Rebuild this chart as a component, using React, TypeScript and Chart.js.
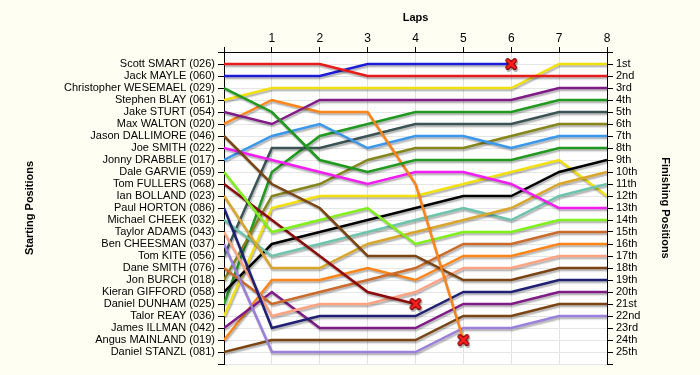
import React, { useEffect, useRef } from 'react';
import { Chart, registerables } from 'chart.js';

Chart.register(...registerables);

const laps = [0, 1, 2, 3, 4, 5, 6, 7, 8];

const driverNames = [
  'Scott SMART (026)', 'Jack MAYLE (060)', 'Christopher WESEMAEL (029)', 'Stephen BLAY (061)',
  'Jake STURT (054)', 'Max WALTON (020)', 'Jason DALLIMORE (046)', 'Joe SMITH (022)',
  'Jonny DRABBLE (017)', 'Dale GARVIE (059)', 'Tom FULLERS (068)', 'Ian BOLLAND (023)',
  'Paul HORTON (086)', 'Michael CHEEK (032)', 'Taylor ADAMS (043)', 'Ben CHEESMAN (037)',
  'Tom KITE (056)', 'Dane SMITH (076)', 'Jon BURCH (018)', 'Kieran GIFFORD (058)',
  'Daniel DUNHAM (025)', 'Talor REAY (036)', 'James ILLMAN (042)', 'Angus MAINLAND (019)',
  'Daniel STANZL (081)',
];

const finishLabels = [
  '1st', '2nd', '3rd', '4th', '5th', '6th', '7th', '8th', '9th', '10th', '11th', '12th', '13th',
  '14th', '15th', '16th', '17th', '18th', '19th', '20th', '21st', '22nd', '23rd', '24th', '25th',
];

const driverColors = [
  '#e61c1c', '#1c1cd6', '#1f9a1f', '#f2e00c', '#7f1a87', '#ff8519', '#7a4512', '#f21df2',
  '#3a97ee', '#7ff01a', '#8b0a0a', '#d9a52a', '#1f1f73', '#6cc4ac', '#ffa383', '#9a7fdb',
  '#3a5454', '#cc6a2a', '#85851a', '#000000', '#1f9a1f', '#f2e00c', '#7f1a87', '#ff8519',
  '#7a4512',
];

// positions at laps 0..8 (null after retirement)
const posScottSmart = [1, 1, 1, 2, 2, 2, 2, 2, 2];
const posJackMayle = [2, 2, 2, 1, 1, 1, 1, null, null];
const posChristopherWesemael = [3, 5, 9, 10, 9, 9, 9, 8, 8];
const posStephenBlay = [4, 3, 3, 3, 3, 3, 3, 1, 1];
const posJakeSturt = [5, 6, 4, 4, 4, 4, 4, 3, 3];
const posMaxWalton = [6, 4, 5, 5, 11, 24, null, null, null];
const posJasonDallimore = [7, 11, 13, 17, 17, 19, 19, 18, 18];
const posJoeSmith = [8, 9, 10, 11, 10, 10, 11, 13, 13];
const posJonnyDrabble = [9, 7, 6, 8, 7, 7, 8, 7, 7];
const posDaleGarvie = [10, 15, 14, 13, 16, 15, 15, 14, 14];
const posTomFullers = [11, 14, 17, 20, 21, null, null, null, null];
const posIanBolland = [12, 18, 18, 16, 15, 14, 13, 11, 10];
const posPaulHorton = [13, 23, 22, 22, 22, 20, 20, 19, 19];
const posMichaelCheek = [14, 17, 16, 15, 14, 13, 14, 12, 11];
const posTaylorAdams = [15, 22, 21, 21, 20, 18, 18, 17, 17];
const posBenCheesman = [16, 25, 25, 25, 25, 23, 23, 22, 22];
const posTomKite = [17, 8, 8, 7, 6, 6, 6, 5, 5];
const posDaneSmith = [18, 21, 20, 19, 18, 16, 16, 15, 15];
const posJonBurch = [19, 12, 11, 9, 8, 8, 7, 6, 6];
const posKieranGifford = [20, 16, 15, 14, 13, 12, 12, 10, 9];
const posDanielDunham = [21, 10, 7, 6, 5, 5, 5, 4, 4];
const posTalorReay = [22, 13, 12, 12, 12, 11, 10, 9, 12];
const posJamesIllman = [23, 20, 23, 23, 23, 21, 21, 20, 20];
const posAngusMainland = [24, 19, 19, 18, 19, 17, 17, 16, 16];
const posDanielStanzl = [25, 24, 24, 24, 24, 22, 22, 21, 21];

const allPositions = [
  posScottSmart, posJackMayle, posChristopherWesemael, posStephenBlay, posJakeSturt,
  posMaxWalton, posJasonDallimore, posJoeSmith, posJonnyDrabble, posDaleGarvie,
  posTomFullers, posIanBolland, posPaulHorton, posMichaelCheek, posTaylorAdams,
  posBenCheesman, posTomKite, posDaneSmith, posJonBurch, posKieranGifford,
  posDanielDunham, posTalorReay, posJamesIllman, posAngusMainland, posDanielStanzl,
];

const FONT = '"Liberation Sans", Arial, sans-serif';

function makeCross(): HTMLCanvasElement {
  const c = document.createElement('canvas');
  c.width = 14;
  c.height = 14;
  const g = c.getContext('2d')!;
  const path = () => {
    g.beginPath();
    g.moveTo(3.5, 3.5);
    g.lineTo(10.5, 10.5);
    g.moveTo(10.5, 3.5);
    g.lineTo(3.5, 10.5);
  };
  g.lineCap = 'round';
  g.strokeStyle = '#7a0000';
  g.lineWidth = 4.8;
  path();
  g.stroke();
  g.strokeStyle = '#ff1f1f';
  g.lineWidth = 2.6;
  path();
  g.stroke();
  return c;
}

const decorPlugin = {
  id: 'decor',
  beforeDraw(chart: any) {
    const { ctx, chartArea } = chart;
    ctx.save();
    ctx.fillStyle = '#fefef2';
    ctx.fillRect(0, 0, chart.width, chart.height);
    ctx.fillStyle = '#ffffff';
    ctx.fillRect(chartArea.left, chartArea.top, chartArea.right - chartArea.left, chartArea.bottom - chartArea.top);
    ctx.restore();
  },
  beforeDatasetsDraw(chart: any) {
    const ctx = chart.ctx;
    ctx.save();
    ctx.shadowColor = 'rgba(0,0,0,0.3)';
    ctx.shadowOffsetX = 1;
    ctx.shadowOffsetY = 2;
    ctx.shadowBlur = 1.5;
  },
  afterDatasetsDraw(chart: any) {
    chart.ctx.restore();
  },
  afterDraw(chart: any) {
    const { ctx, chartArea } = chart;
    const cy = (chartArea.top + chartArea.bottom) / 2;
    ctx.save();
    ctx.fillStyle = '#000';
    ctx.font = 'bold 11px ' + FONT;
    ctx.textAlign = 'center';
    ctx.textBaseline = 'middle';
    ctx.fillText('Laps', (chartArea.left + chartArea.right) / 2, 18);
    ctx.save();
    ctx.translate(30, cy);
    ctx.rotate(-Math.PI / 2);
    ctx.fillText('Starting Positions', 0, 0);
    ctx.restore();
    ctx.save();
    ctx.translate(665, cy);
    ctx.rotate(Math.PI / 2);
    ctx.fillText('Finishing Positions', 0, 0);
    ctx.restore();
    ctx.restore();
  },
};

export default function App() {
  const ref = useRef<HTMLCanvasElement | null>(null);

  useEffect(() => {
    document.body.style.margin = '0';
    const cross = makeCross();
    const datasets = allPositions.map((pos, i) => {
      let retireIdx = -1;
      if (pos[pos.length - 1] === null) {
        for (let k = pos.length - 1; k >= 0; k--) {
          if (pos[k] !== null) {
            retireIdx = k;
            break;
          }
        }
      }
      return {
        label: driverNames[i],
        data: laps.map((l, k) => ({ x: l, y: pos[k] })),
        borderColor: driverColors[i],
        backgroundColor: driverColors[i],
        borderWidth: 2.5,
        tension: 0,
        pointStyle: cross,
        pointRadius: (c: any) => (c.dataIndex === retireIdx ? 7 : 0),
        pointHoverRadius: 0,
        xAxisID: 'x',
        yAxisID: 'y',
      };
    });

    const yTicks = (labels: string[]) => ({
      stepSize: 1,
      autoSkip: false,
      color: '#000',
      padding: 3,
      font: { family: FONT, size: 11 },
      callback: (v: any) => (v >= 1 && v <= 25 ? labels[v - 1] : ''),
    });

    const chart = new Chart(ref.current!, {
      type: 'line',
      data: { datasets },
      options: {
        animation: false,
        responsive: false,
        events: [],
        layout: { padding: { bottom: 11 } },
        plugins: { legend: { display: false }, tooltip: { enabled: false } },
        scales: {
          x: {
            type: 'linear',
            position: 'top',
            min: 0,
            max: 8,
            ticks: {
              stepSize: 1,
              color: '#000',
              padding: 1,
              font: { family: FONT, size: 12 },
              callback: (v: any) => (v === 0 ? '' : String(v)),
            },
            grid: { color: '#e2e2e2', tickColor: '#000', tickLength: 5 },
            border: { display: true, color: '#000', width: 1 },
            afterFit: (s: any) => {
              s.height = 52;
            },
          },
          y: {
            type: 'linear',
            position: 'left',
            reverse: true,
            min: 0,
            max: 26,
            ticks: yTicks(driverNames),
            grid: { color: '#e6e6e6', tickColor: '#000', tickLength: 6 },
            border: { display: true, color: '#000', width: 1 },
            afterFit: (s: any) => {
              s.width = 224;
            },
          },
          y2: {
            type: 'linear',
            position: 'right',
            display: true,
            reverse: true,
            min: 0,
            max: 26,
            ticks: yTicks(finishLabels),
            grid: { drawOnChartArea: false, tickColor: '#000', tickLength: 6 },
            border: { display: true, color: '#000', width: 1 },
            afterFit: (s: any) => {
              s.width = 93;
            },
          },
        },
      },
      plugins: [decorPlugin],
    });
    return () => chart.destroy();
  }, []);

  return (
    <div style={{ width: 700, height: 375 }}>
      <canvas ref={ref} width={700} height={375} style={{ display: 'block' }} />
    </div>
  );
}
